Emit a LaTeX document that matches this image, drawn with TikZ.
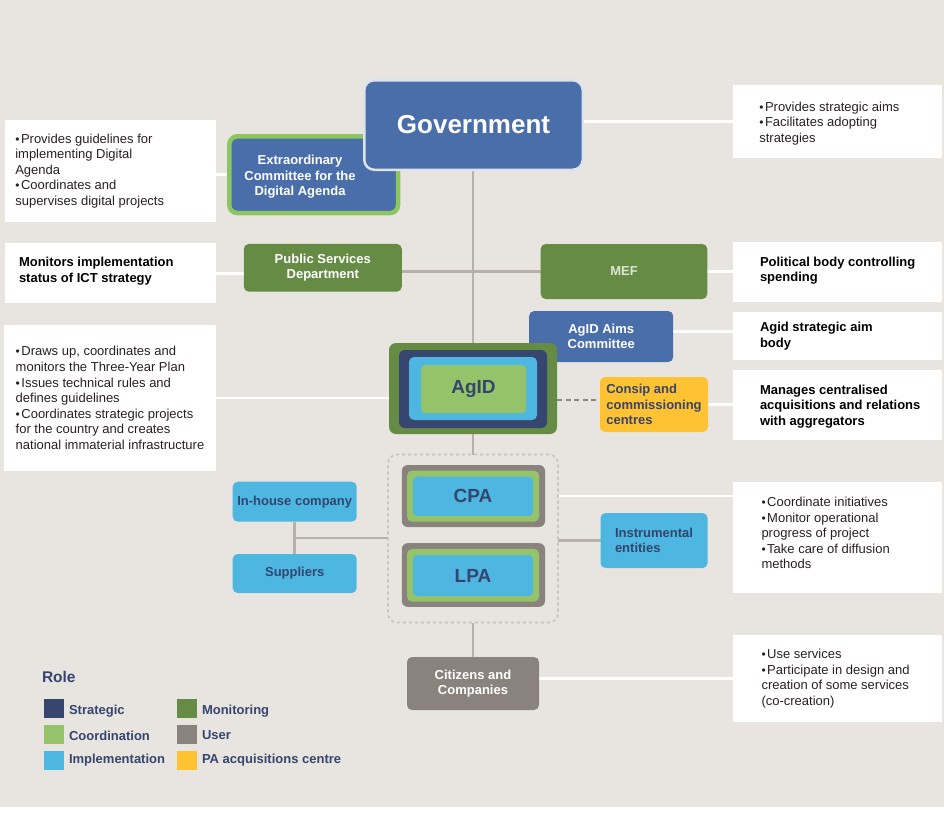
\documentclass[tikz,border=0pt]{standalone}
\usepackage{fontspec}
\setmainfont{Liberation Sans}
\usetikzlibrary{calc}
\definecolor{bg}{HTML}{E8E5E1}
\definecolor{govblue}{HTML}{4A6EA9}
\definecolor{govborder}{HTML}{DCE3EE}
\definecolor{lgreen}{HTML}{95C36A}
\definecolor{ecgreen}{HTML}{8CC65E}
\definecolor{lblue}{HTML}{4DB7E2}
\definecolor{navy}{HTML}{36466F}
\definecolor{mgreen}{HTML}{658B44}
\definecolor{ugray}{HTML}{8A837D}
\definecolor{yellowc}{HTML}{FEC232}
\definecolor{navytext}{HTML}{35456D}
\definecolor{conngray}{HTML}{B8B1AB}
\definecolor{regiongray}{HTML}{C8C2BC}
\definecolor{dashgray}{HTML}{8C857F}
\definecolor{desctext}{HTML}{2B2020}
\definecolor{meftext}{HTML}{DDE5D5}
\pgfdeclarelayer{back}
\pgfdeclarelayer{conn}
\pgfsetlayers{back,conn,main}
\newcommand{\bul}{{\fontsize{12}{12}\selectfont •}\hspace{1.5pt}}
\begin{document}
\begin{tikzpicture}[x=1pt,y=-1pt,
  every node/.style={inner sep=0pt, outer sep=0pt},
  nodefont/.style={font=\bfseries\fontsize{13}{15.6}\selectfont},
  descbox/.style={fill=white, minimum width=209},
  desctxt/.style={font=\fontsize{13}{15.6}\selectfont, text=desctext, align=left, anchor=west},
  descbold/.style={font=\bfseries\fontsize{13}{15.6}\selectfont, text=black, align=left, anchor=west},
  rbox/.style={rounded corners=5pt, nodefont, align=center},
  wire/.style={line width=2.6pt, draw=white},
  gwire/.style={line width=2.6pt, draw=conngray},
  legsq/.style={minimum width=20, minimum height=19},
  legtxt/.style={nodefont, text=navytext, anchor=west},
  bigfont/.style={font=\bfseries\fontsize{19}{22}\selectfont, text=navytext}
]
\useasboundingbox (0,0) rectangle (944,812);
\begin{pgfonlayer}{back}
\fill[bg] (0,0) rectangle (944,807);
\fill[white] (0,807) rectangle (944,812);
\end{pgfonlayer}

% description boxes
\node[descbox, minimum width=211, minimum height=102] (tb1) at (110,171.2) {};
\node[desctxt] (tb1t) at (15.3,171) {\bul Provides guidelines for\\implementing Digital\\Agenda\\\bul Coordinates and\\supervises digital projects};
\node[descbox, minimum width=211, minimum height=60] (tb2) at (110,273.3) {};
\node[descbold] (tb2t) at (19,271) {Monitors implementation\\status of ICT strategy};
\node[descbox, minimum width=211.7, minimum height=146] (tb3) at (109.8,398) {};
\node[desctxt] (tb3t) at (15.7,398) {\bul Draws up, coordinates and\\monitors the Three-Year Plan\\\bul Issues technical rules and\\defines guidelines\\\bul Coordinates strategic projects\\for the country and creates\\national immaterial infrastructure};

\node[descbox, minimum height=73] (tr1) at (837.4,121.5) {};
\node[desctxt] (tr1t) at (759.3,123.5) {\bul Provides strategic aims\\\bul Facilitates adopting\\strategies};
\node[descbox, minimum height=60] (tr2) at (837.4,271.7) {};
\node[descbold] (tr2t) at (760,270.5) {Political body controlling\\spending};
\node[descbox, minimum height=47.7] (tr3) at (837.4,336.2) {};
\node[descbold] (tr3t) at (760,336) {Agid strategic aim\\body};
\node[descbox, minimum height=70] (tr4) at (837.4,405) {};
\node[descbold] (tr4t) at (760,406.5) {Manages centralised\\acquisitions and relations\\with aggregators};
\node[descbox, minimum height=110.4] (tr5) at (837.4,537.5) {};
\node[desctxt] (tr5t) at (761.5,533) {\bul Coordinate initiatives\\\bul Monitor operational\\progress of project\\\bul Take care of diffusion\\methods};
\node[descbox, minimum height=86.7] (tr6) at (837.4,678.3) {};
\node[desctxt] (tr6t) at (761.5,678.5) {\bul Use services\\\bul Participate in design and\\creation of some services\\(co-creation)};

% organisation nodes
\node[rbox, fill=govblue, draw=ecgreen, line width=4.5pt, rounded corners=8pt, minimum width=168.7, minimum height=76.7] (ec) at (313.7,174.7) {};
\node[nodefont, text=white, align=center] (ect) at (300,177) {Extraordinary\\Committee for the\\Digital Agenda};
\node[rbox, fill=govblue, draw=govborder, line width=2.5pt, rounded corners=10pt, minimum width=218.5, minimum height=89.5, font=\bfseries\fontsize{26}{30}\selectfont, text=white] (gov) at (473.5,125) {Government};
\node[rbox, fill=mgreen, text=white, minimum width=158, minimum height=47.7] (psd) at (322.8,267.8) {Public Services\\Department};
\node[rbox, fill=mgreen, text=meftext, minimum width=166.6, minimum height=55] (mef) at (624,271.5) {MEF};
\node[rbox, fill=govblue, text=white, minimum width=144, minimum height=51] (aims) at (601.2,336.5) {AgID Aims\\Committee};

\node[rbox, fill=mgreen, rounded corners=7pt, minimum width=168, minimum height=91] (agid) at (473,388.5) {};
\node[rbox, fill=navy, rounded corners=6pt, minimum width=148, minimum height=78] (agid2) at (473,389) {};
\node[rbox, fill=lblue, rounded corners=5pt, minimum width=128, minimum height=63] (agid3) at (473,388.5) {};
\node[rbox, fill=lgreen, rounded corners=4pt, minimum width=105, minimum height=48, bigfont] (agid4) at (473.5,389) {AgID};

\node[rbox, fill=yellowc, text=navytext, align=left, minimum width=108, minimum height=55] (consip) at (654,404.5) {Consip and\\commissioning\\centres};

\node[draw=regiongray, line width=1.6pt, dash pattern=on 3pt off 3pt, rounded corners=9pt, minimum width=170, minimum height=168] (region) at (473,538.5) {};

\node[rbox, fill=ugray, rounded corners=6pt, minimum width=143.3, minimum height=62] (cpa1) at (473.4,496) {};
\node[rbox, fill=lgreen, rounded corners=5pt, minimum width=132, minimum height=51] (cpa2) at (473,496.2) {};
\node[rbox, fill=lblue, rounded corners=4pt, minimum width=119.7, minimum height=39.3, bigfont] (cpa3) at (473,496.3) {CPA};
\node[rbox, fill=ugray, rounded corners=6pt, minimum width=143.3, minimum height=63.7] (lpa1) at (473.4,575) {};
\node[rbox, fill=lgreen, rounded corners=5pt, minimum width=132, minimum height=52.7] (lpa2) at (473,575.3) {};
\node[rbox, fill=lblue, rounded corners=4pt, minimum width=119.7, minimum height=41, bigfont] (lpa3) at (473,575.5) {LPA};

\node[rbox, fill=lblue, text=navytext, minimum width=124, minimum height=40] (inh) at (294.7,501.7) {In-house company};
\node[rbox, fill=lblue, text=navytext, minimum width=124, minimum height=39] (sup) at (294.7,573.5) {Suppliers};
\node[rbox, fill=lblue, text=navytext, align=left, minimum width=107, minimum height=55] (inst) at (654,540.5) {Instrumental\\entities};
\node[rbox, fill=ugray, text=white, minimum width=132, minimum height=53] (cit) at (473,683.5) {Citizens and\\Companies};

% legend
\node[font=\bfseries\fontsize{15.5}{18}\selectfont, text=navytext, anchor=west] (role) at (42,676.5) {Role};
\node[legsq, fill=navy] (ls1) at (53.7,708.5) {};
\node[legtxt] (lt1) at (69,711) {Strategic};
\node[legsq, fill=lgreen] (ls2) at (53.7,734) {};
\node[legtxt] (lt2) at (69,735.5) {Coordination};
\node[legsq, fill=lblue] (ls3) at (53.7,760) {};
\node[legtxt] (lt3) at (69,760) {Implementation};
\node[legsq, fill=mgreen] (ls4) at (186.5,708.5) {};
\node[legtxt] (lt4) at (202,711) {Monitoring};
\node[legsq, fill=ugray] (ls5) at (186.5,734) {};
\node[legtxt] (lt5) at (202,735.5) {User};
\node[legsq, fill=yellowc] (ls6) at (186.5,760) {};
\node[legtxt] (lt6) at (202,760) {PA acquisitions centre};

% connectors
\begin{pgfonlayer}{conn}
\coordinate (aimsR) at ($(aims.east)+(0,-4.8)$);
\coordinate (agidR) at ($(agid.east)+(0,11.5)$);
\coordinate (mid) at ($(inh.south)!0.5!(sup.north)$);
\draw[wire] (ec.west -| tb1.east) -- (ec.west);
\draw[wire] (tr1.west -| gov.east) -- (tr1.west);
\draw[wire] (tb2.east) -- (tb2.east -| psd.west);
\draw[gwire] (mef.west -| psd.east) -- (mef.west);
\draw[wire] (mef.east) -- (mef.east -| tr2.west);
\draw[wire] (aimsR) -- (aimsR -| tr3.west);
\draw[wire] (tb3.east) -- (tb3.east -| agid.west);
\draw[line width=2.6pt, draw=dashgray, dash pattern=on 5pt off 3.5pt] (agidR) -- (agidR -| consip.west);
\draw[wire] (consip.east) -- (consip.east -| tr4.west);
\draw[gwire] (agid.north |- gov.south) -- (agid.north);
\draw[gwire] (agid.south) -- (agid.south |- region.north);
\draw[gwire] (region.south) -- (region.south |- cit.north);
\draw[wire] (cpa1.east -| region.east) -- (cpa1.east -| tr5.west);
\draw[gwire] (inst.west -| region.east) -- (inst.west);
\draw[gwire] (inh.south) -- (sup.north);
\draw[gwire] (mid) -- (mid -| region.west);
\draw[wire] (tr6.west -| cit.east) -- (tr6.west);
\end{pgfonlayer}
\end{tikzpicture}
\end{document}
